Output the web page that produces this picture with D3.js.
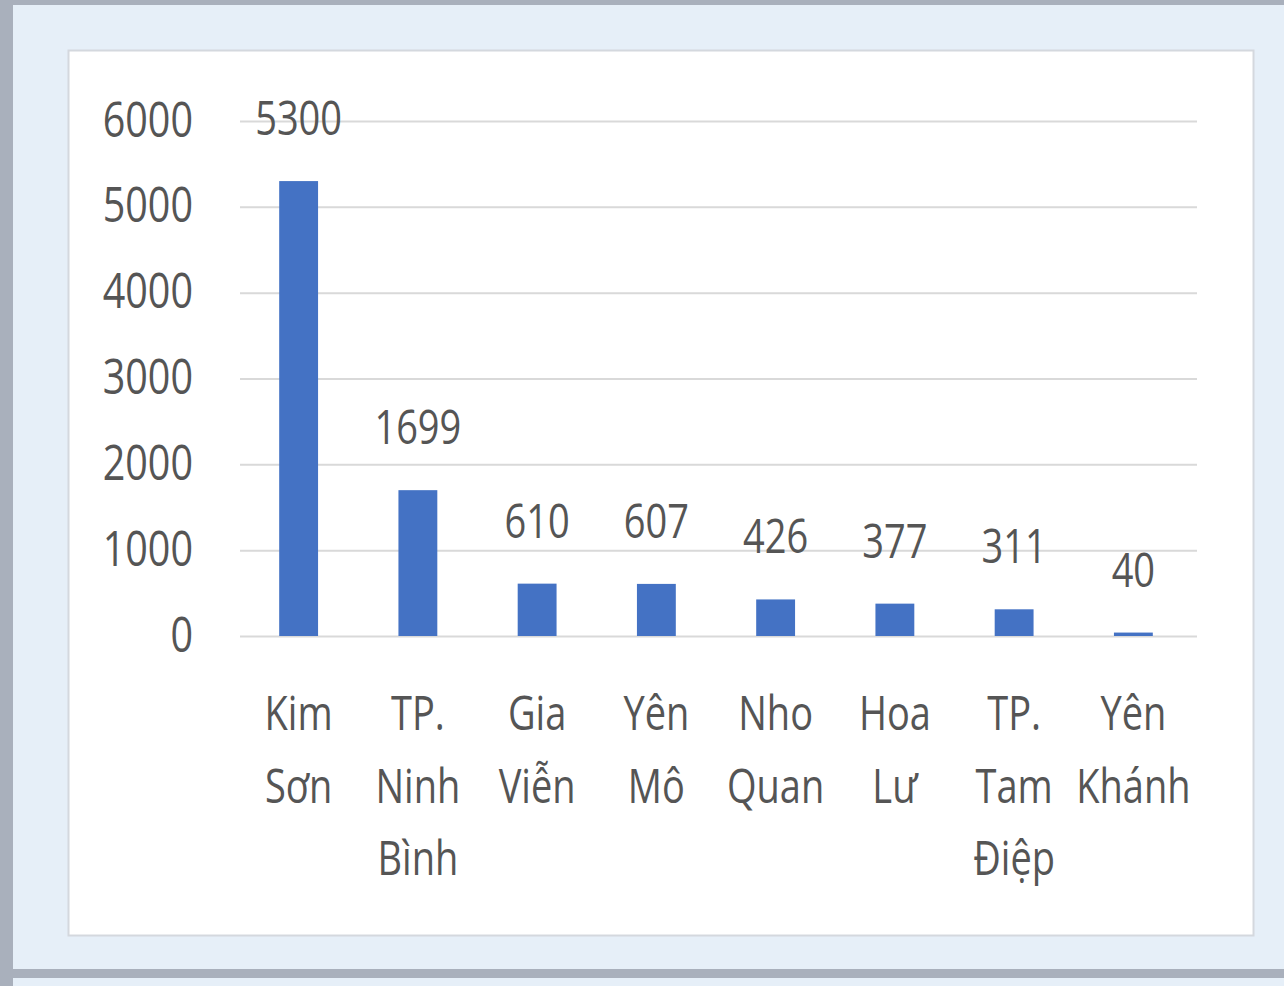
<!DOCTYPE html>
<html>
<head>
<meta charset="utf-8">
<script src="https://cdn.jsdelivr.net/npm/d3@7"></script>
<style>
  html, body { margin: 0; padding: 0; background: #e6eff8; }
  svg { display: block; }
  text { font-family: "Open Sans", "Liberation Sans", sans-serif; fill: #555555; }
</style>
</head>
<body>
<svg id="chart" width="1284" height="986"></svg>
<script>
// ---- data ----
const categories = ["Kim Sơn", "TP. Ninh Bình", "Gia Viễn", "Yên Mô", "Nho Quan", "Hoa Lư", "TP. Tam Điệp", "Yên Khánh"];
const values = [5300, 1699, 610, 607, 426, 377, 311, 40];
const yTicks = [0, 1000, 2000, 3000, 4000, 5000, 6000];

// ---- layout ----
const W = 1284, H = 986;
const plotLeft = 240, plotRight = 1197, barRight = 1193;
const y0 = 636, yTop = 121;
const fs = 38, sy = 1.27;

const svg = d3.select("#chart");

// frame / background
svg.append("rect").attr("x", 0).attr("y", 0).attr("width", W).attr("height", H).attr("fill", "#e6eff8");
svg.append("rect").attr("x", 0).attr("y", 0).attr("width", W).attr("height", 5).attr("fill", "#a9b0bc");
svg.append("rect").attr("x", 0).attr("y", 0).attr("width", 13).attr("height", H).attr("fill", "#a9b0bc");
svg.append("rect").attr("x", 0).attr("y", 969).attr("width", W).attr("height", 9).attr("fill", "#a9b0bc");
svg.append("rect").attr("x", 68.5).attr("y", 50.5).attr("width", 1185).attr("height", 885)
  .attr("fill", "#ffffff").attr("stroke", "#d4d8de").attr("stroke-width", 2);

// ---- scales ----
const x = d3.scaleBand().domain(categories).range([plotLeft - 1, barRight]).paddingInner(0.674).paddingOuter(0.337);
const y = d3.scaleLinear().domain([0, 6000]).range([y0, yTop]);

// gridlines
const grid = svg.append("g").attr("transform", `translate(${plotLeft},0)`)
  .call(d3.axisLeft(y).tickValues(yTicks).tickSize(-(plotRight - plotLeft)).tickFormat(""));
grid.select(".domain").remove();
grid.selectAll(".tick line").attr("stroke", "#d9d9d9").attr("stroke-width", 2);

// y axis labels
const yAxis = svg.append("g").attr("transform", `translate(${plotLeft},0)`)
  .call(d3.axisLeft(y).tickValues(yTicks).tickSize(0).tickPadding(47).tickFormat(d3.format("d")));
yAxis.select(".domain").remove();
yAxis.selectAll(".tick text")
  .attr("font-size", 39.5).attr("fill", "#555555")
  .attr("font-family", "'Open Sans', 'Liberation Sans', sans-serif")
  .attr("dy", "0.3em")
  .attr("transform", `scale(1,${sy})`);

// bars
svg.append("g").selectAll("rect").data(values).join("rect")
  .attr("x", (d, i) => x(categories[i]))
  .attr("width", x.bandwidth())
  .attr("y", d => y(d))
  .attr("height", d => y(0) - y(d))
  .attr("fill", "#4472c4");

// data labels
svg.append("g").selectAll("text").data(values).join("text")
  .attr("transform", (d, i) => `translate(${x(categories[i]) + x.bandwidth() / 2},${y(d) - 46}) scale(1,${sy})`)
  .attr("text-anchor", "middle")
  .attr("font-size", fs)
  .text(d => d);

// category labels (wrapped per word)
const catG = svg.append("g");
categories.forEach((c, i) => {
  const cx = x(c) + x.bandwidth() / 2;
  c.split(" ").forEach((w, j) => {
    catG.append("text")
      .attr("transform", `translate(${cx},${730 + j * 72.5}) scale(1,${sy})`)
      .attr("text-anchor", "middle")
      .attr("font-size", fs)
      .text(w);
  });
});
</script>
</body>
</html>
